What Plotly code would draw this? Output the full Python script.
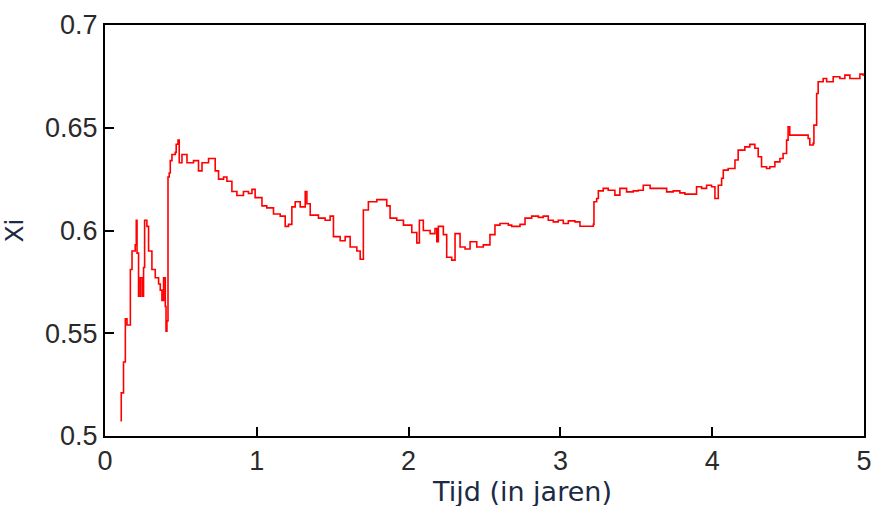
import plotly.graph_objects as go

# Time (years) and Xi values
tijd = [0.107, 0.107, 0.122, 0.122, 0.134, 0.134, 0.145, 0.167, 0.178, 0.199, 0.206, 0.211,
        0.221, 0.232, 0.244, 0.254, 0.261, 0.276, 0.287, 0.309, 0.331, 0.353, 0.364, 0.375,
        0.386, 0.397, 0.402, 0.408, 0.415, 0.423, 0.430, 0.441, 0.463, 0.469, 0.481, 0.489,
        0.507, 0.540, 0.562, 0.583, 0.616, 0.639, 0.682, 0.726, 0.748, 0.781, 0.803, 0.836,
        0.869, 0.912, 0.945, 0.968, 0.989, 1.034, 1.066, 1.110, 1.154, 1.187, 1.209, 1.231,
        1.253, 1.286, 1.319, 1.330, 1.352, 1.406, 1.450, 1.483, 1.505, 1.549, 1.582, 1.615,
        1.659, 1.681, 1.702, 1.735, 1.791, 1.856, 1.878, 1.922, 1.966, 2.021, 2.054, 2.071,
        2.097, 2.142, 2.174, 2.186, 2.196, 2.229, 2.251, 2.284, 2.306, 2.339, 2.372, 2.405,
        2.449, 2.492, 2.536, 2.569, 2.602, 2.657, 2.679, 2.734, 2.767, 2.811, 2.855, 2.887,
        2.920, 2.953, 2.986, 3.019, 3.052, 3.096, 3.129, 3.195, 3.217, 3.221, 3.239, 3.250,
        3.282, 3.315, 3.359, 3.392, 3.436, 3.480, 3.513, 3.546, 3.591, 3.667, 3.700, 3.743,
        3.787, 3.820, 3.864, 3.897, 3.930, 3.963, 3.996, 4.018, 4.040, 4.062, 4.073, 4.105,
        4.128, 4.150, 4.171, 4.215, 4.248, 4.281, 4.303, 4.325, 4.358, 4.380, 4.413, 4.446,
        4.467, 4.490, 4.500, 4.511, 4.556, 4.599, 4.632, 4.643, 4.665, 4.670, 4.688, 4.698,
        4.731, 4.754, 4.797, 4.841, 4.874, 4.907, 4.940, 4.973, 4.994]
xi = [0.507, 0.521, 0.524, 0.536, 0.548, 0.557, 0.554, 0.581, 0.590, 0.593, 0.605, 0.589,
      0.568, 0.577, 0.568, 0.582, 0.605, 0.602, 0.590, 0.581, 0.577, 0.574, 0.571, 0.566,
      0.577, 0.563, 0.551, 0.556, 0.626, 0.628, 0.634, 0.637, 0.638, 0.642, 0.644, 0.633,
      0.637, 0.633, 0.633, 0.634, 0.629, 0.633, 0.635, 0.629, 0.625, 0.626, 0.624, 0.619,
      0.617, 0.619, 0.618, 0.620, 0.616, 0.612, 0.611, 0.608, 0.607, 0.602, 0.603, 0.6115,
      0.614, 0.6115, 0.619, 0.613, 0.6075, 0.606, 0.605, 0.607, 0.597, 0.595, 0.597, 0.592,
      0.590, 0.586, 0.610, 0.614, 0.615, 0.612, 0.606, 0.605, 0.6026, 0.599, 0.594, 0.605,
      0.600, 0.5985, 0.601, 0.5945, 0.602, 0.598, 0.587, 0.5856, 0.5985, 0.592, 0.591, 0.5945,
      0.592, 0.593, 0.598, 0.6026, 0.6034, 0.6026, 0.602, 0.603, 0.606, 0.607, 0.6064, 0.607,
      0.605, 0.6042, 0.605, 0.6034, 0.6047, 0.6042, 0.6021, 0.6021, 0.603, 0.614, 0.6156, 0.6193,
      0.6205, 0.6196, 0.6172, 0.6205, 0.6188, 0.6193, 0.6196, 0.622, 0.6205, 0.6205, 0.6188, 0.6193,
      0.6183, 0.6177, 0.6177, 0.6213, 0.6205, 0.622, 0.6213, 0.6156, 0.622, 0.6254, 0.6294, 0.6302,
      0.6302, 0.6343, 0.6391, 0.6407, 0.6419, 0.640, 0.6359, 0.631, 0.6302, 0.631, 0.6334, 0.635,
      0.6375, 0.644, 0.6505, 0.6464, 0.6464, 0.6464, 0.6448, 0.6416, 0.6424, 0.6513, 0.6667, 0.6724,
      0.674, 0.6724, 0.6748, 0.674, 0.6756, 0.674, 0.674, 0.6761, 0.6752]

x_ticks = [0, 1, 2, 3, 4, 5]
y_ticks = [0.5, 0.55, 0.6, 0.65, 0.7]
y_tick_labels = ["0.5", "0.55", "0.6", "0.65", "0.7"]

fig = go.Figure()
fig.add_trace(go.Scatter(x=tijd, y=xi, mode="lines",
                         line=dict(color="#ff0000", width=1.6, shape="hv"),
                         showlegend=False, hoverinfo="x+y"))

tick_font = dict(family="Liberation Sans, Arial, sans-serif", size=27, color="#2a2a2a")
title_font = dict(family="DejaVu Sans, Verdana, sans-serif", size=27, color="#1c2a44")

fig.update_layout(
    width=876, height=506,
    margin=dict(l=105, r=12, t=25, b=70),
    paper_bgcolor="white", plot_bgcolor="white",
    xaxis=dict(range=[0, 5], tickvals=x_ticks, ticktext=[str(v) for v in x_ticks],
               ticks="inside", ticklen=9, tickwidth=1.5, tickcolor="#000000",
               showline=True, linecolor="#000000", linewidth=2, mirror=True,
               showgrid=False, zeroline=False, tickfont=tick_font, automargin=False),
    yaxis=dict(range=[0.5, 0.7], tickvals=y_ticks, ticktext=y_tick_labels,
               ticks="inside", ticklen=9, tickwidth=1.5, tickcolor="#000000",
               showline=True, linecolor="#000000", linewidth=2, mirror=True,
               showgrid=False, zeroline=False, tickfont=tick_font, automargin=False,
               title=dict(text="Xi", font=dict(family="DejaVu Sans, Verdana, sans-serif",
                                               size=25, color="#1c2a44"), standoff=14)),
    annotations=[dict(text="Tijd (in jaren)", xref="paper", yref="paper",
                      x=0.549, y=0, yshift=-55, xanchor="center", yanchor="middle",
                      showarrow=False, font=title_font)],
)

fig.write_html("out.html")
